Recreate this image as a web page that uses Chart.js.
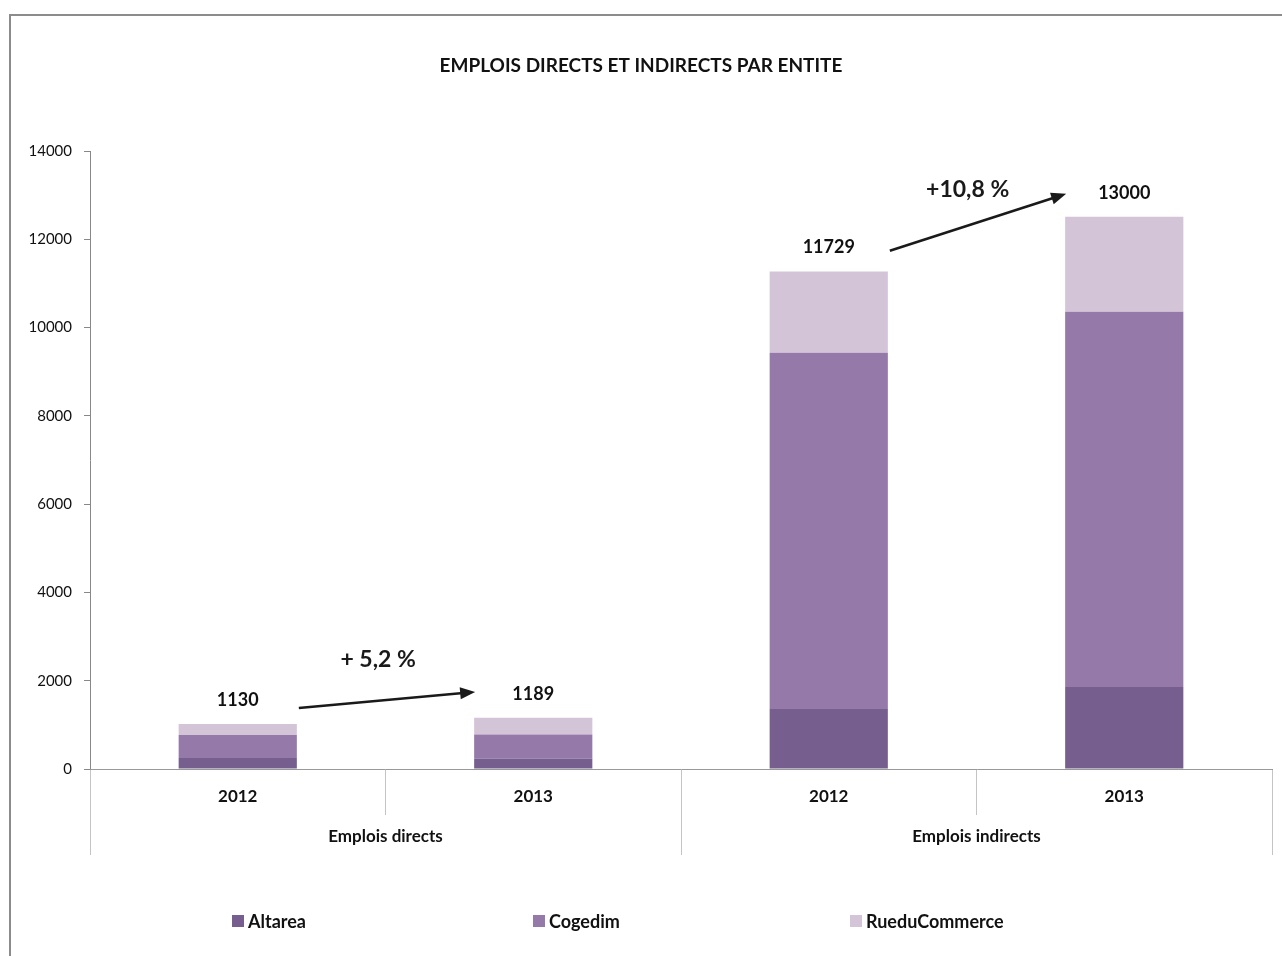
<!DOCTYPE html>
<html>
<head>
<meta charset="utf-8">
<title>Emplois directs et indirects par entite</title>
<script src="https://cdn.jsdelivr.net/npm/chart.js@4.4.1/dist/chart.umd.min.js"></script>
<style>
  html, body { margin: 0; padding: 0; background: #fff; }
  #wrap { position: relative; width: 1282px; height: 956px; }
</style>
</head>
<body>
<div id="wrap"><canvas id="chart" width="1282" height="956"></canvas></div>
<script>
// data
var years = ["2012", "2013", "2012", "2013"];
var groups = ["Emplois directs", "Emplois indirects"];
var altarea = [250, 240, 1360, 1860];
var cogedim = [520, 540, 8070, 8500];
var rueducommerce = [250, 380, 1840, 2150];
var totalLabels = ["1130", "1189", "11729", "13000"];
var yTicks = [0, 2000, 4000, 6000, 8000, 10000, 12000, 14000];

// growth arrows: from bar, to bar, start value, end value, text
var arrowFrom = [0, 2];
var arrowTo = [1, 3];
var arrowStart = [1380, 11740];
var arrowEnd = [1745, 13030];
var growthText = ["+ 5,2 %", "+10,8 %"];
var growthAt = [0.475, 2.47];     // category position of the text
var growthValue = [2470, 13120];  // height of the text

var FONT = "Lato, 'Open Sans', sans-serif";
var legendX = [232, 533, 850];

// draws frame, totals, arrows and legend
var extras = {
  id: "extras",
  beforeDraw: function (chart) {
    var c = chart.ctx;
    c.save();
    c.fillStyle = "#fff";
    c.fillRect(0, 0, chart.width, chart.height);
    c.strokeStyle = "#8c8c8c";
    c.lineWidth = 2;
    c.beginPath();
    c.moveTo(10, chart.height);
    c.lineTo(10, 15);
    c.lineTo(chart.width, 15);
    c.stroke();
    c.restore();
  },
  afterDraw: function (chart) {
    var c = chart.ctx;
    var xs = chart.scales.x;
    var ys = chart.scales.y;
    var top = chart.getDatasetMeta(2).data;
    c.save();

    // totals above the bars
    c.fillStyle = "#111";
    c.font = "bold 18px " + FONT;
    c.textAlign = "center";
    c.textBaseline = "middle";
    for (var i = 0; i < top.length; i++) {
      c.fillText(totalLabels[i], top[i].x, top[i].y - 24);
    }

    // arrows
    for (var k = 0; k < arrowFrom.length; k++) {
      var a = top[arrowFrom[k]], b = top[arrowTo[k]];
      var x0 = a.x + a.width / 2 + 2, y0 = ys.getPixelForValue(arrowStart[k]);
      var x1 = b.x - b.width / 2 + 1, y1 = ys.getPixelForValue(arrowEnd[k]);
      var ang = Math.atan2(y1 - y0, x1 - x0);
      c.strokeStyle = "#1a1a1a";
      c.fillStyle = "#1a1a1a";
      c.lineWidth = 2.5;
      c.beginPath();
      c.moveTo(x0, y0);
      c.lineTo(x1 - 12 * Math.cos(ang), y1 - 12 * Math.sin(ang));
      c.stroke();
      c.beginPath();
      c.moveTo(x1, y1);
      c.lineTo(x1 - 15 * Math.cos(ang) + 6 * Math.sin(ang), y1 - 15 * Math.sin(ang) - 6 * Math.cos(ang));
      c.lineTo(x1 - 15 * Math.cos(ang) - 6 * Math.sin(ang), y1 - 15 * Math.sin(ang) + 6 * Math.cos(ang));
      c.closePath();
      c.fill();

      c.font = "bold 23px " + FONT;
      c.fillText(growthText[k], xs.getPixelForValue(growthAt[k]), ys.getPixelForValue(growthValue[k]));
    }

    // legend
    c.font = "bold 18px " + FONT;
    c.textAlign = "left";
    chart.data.datasets.forEach(function (ds, j) {
      var lx = legendX[j], ly = 921;
      c.fillStyle = ds.backgroundColor;
      c.fillRect(lx, ly - 6, 12, 12);
      c.fillStyle = "#111";
      c.fillText(ds.label, lx + 16, ly + 1);
    });
    c.restore();
  }
};

new Chart(document.getElementById("chart"), {
  type: "bar",
  data: {
    labels: years,
    datasets: [
      { label: "Altarea", data: altarea, backgroundColor: "#765f8f" },
      { label: "Cogedim", data: cogedim, backgroundColor: "#9579a9" },
      { label: "RueduCommerce", data: rueducommerce, backgroundColor: "#d4c4d8" }
    ]
  },
  options: {
    responsive: false,
    animation: false,
    layout: { padding: { left: 10, right: 10, top: 0, bottom: 101 } },
    datasets: { bar: { barPercentage: 0.4, categoryPercentage: 1, borderWidth: 0 } },
    plugins: {
      legend: { display: false },
      tooltip: { enabled: false },
      title: {
        display: true,
        text: "EMPLOIS DIRECTS ET INDIRECTS PAR ENTITE",
        color: "#111",
        font: { family: FONT, size: 19, weight: "bold" },
        padding: { top: 54, bottom: 74.2 }
      }
    },
    scales: {
      y: {
        stacked: true,
        min: 0,
        max: 14000,
        afterBuildTicks: function (s) { s.ticks = yTicks.map(function (v) { return { value: v }; }); },
        afterFit: function (s) { s.width = 80; },
        ticks: {
          color: "#111",
          font: { family: FONT, size: 15 },
          padding: 12,
          callback: function (v) { return String(v); }
        },
        grid: { drawOnChartArea: false, tickLength: 6, color: "#888" },
        border: { color: "#888" }
      },
      x: {
        stacked: true,
        weight: 0,
        afterFit: function (s) { s.height = 46; },
        ticks: { color: "#111", font: { family: FONT, size: 17, weight: "bold" }, padding: -29, maxRotation: 0 },
        grid: { offset: true, drawOnChartArea: false, tickLength: 46, color: "#c4c4c4" },
        border: { color: "#999" }
      },
      x2: {
        type: "category",
        position: "bottom",
        weight: 1,
        labels: groups,
        offset: true,
        afterFit: function (s) { s.height = 40; },
        ticks: { color: "#111", font: { family: FONT, size: 17, weight: "bold" }, padding: -29, maxRotation: 0 },
        grid: { offset: true, drawOnChartArea: false, tickLength: 40, color: "#c4c4c4" },
        border: { display: false }
      }
    }
  },
  plugins: [extras]
});
</script>
</body>
</html>
